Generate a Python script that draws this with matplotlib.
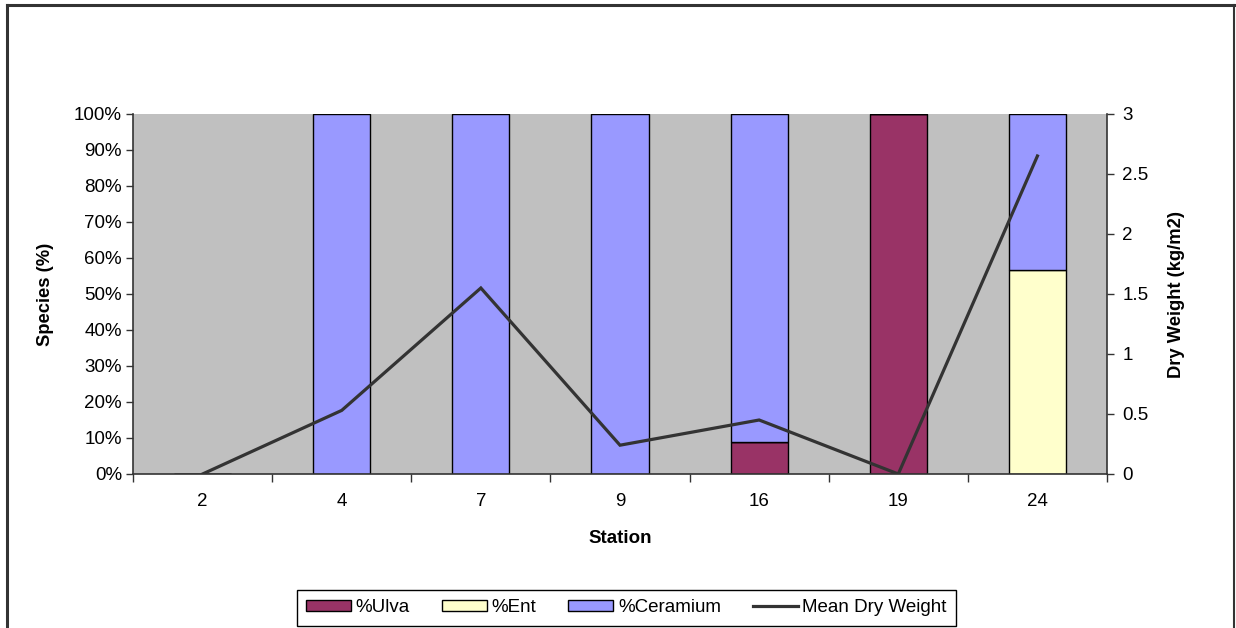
import matplotlib
matplotlib.use("Agg")
import matplotlib.pyplot as plt
import numpy as np
from matplotlib.patches import Rectangle
from matplotlib.lines import Line2D

plt.rcParams['font.family'] = ['Liberation Sans', 'DejaVu Sans']

stations = ['2', '4', '7', '9', '16', '19', '24']
ulva = [0, 0, 0, 0, 8.9, 100, 0]
ent = [0, 0, 0, 0, 0, 0, 56.7]
ceramium = [0, 100, 100, 100, 91.1, 0, 43.3]
dry_weight = [0.0, 0.53, 1.55, 0.24, 0.45, 0.0, 2.65]

c_ulva = '#993366'
c_ent = '#FFFFCC'
c_cer = '#9999FF'
c_line = '#333333'
bg = '#C0C0C0'

W, H = 1236, 628
fig = plt.figure(figsize=(W/100, H/100), dpi=100)

# outer frame (left, top, right)
fig.add_artist(Line2D([6.5/W, 6.5/W], [0, 1-4.5/H], color='#333333', lw=2.2))
fig.add_artist(Line2D([6.5/W, 1233.5/W], [1-4.5/H, 1-4.5/H], color='#333333', lw=2.2))
fig.add_artist(Line2D([1233.5/W, 1233.5/W], [0, 1-4.5/H], color='#333333', lw=1.5))

FS = 13.5
L, R, T, B = 133, 1107, 114, 474
ax = fig.add_axes([L/W, 1-B/H, (R-L)/W, (B-T)/H])
ax.set_facecolor(bg)
x = np.arange(len(stations))
bw = 0.41
ax.bar(x, ulva, bw, color=c_ulva, edgecolor='black', linewidth=1.0, zorder=2)
ax.bar(x, ent, bw, bottom=ulva, color=c_ent, edgecolor='black', linewidth=1.0, zorder=2)
bot2 = [a+b for a, b in zip(ulva, ent)]
ax.bar(x, ceramium, bw, bottom=bot2, color=c_cer, edgecolor='black', linewidth=1.0, zorder=2)

ax.set_xlim(-0.5, len(stations)-0.5)
ax.set_ylim(0, 100)
ax.set_yticks(np.arange(0, 101, 10))
ax.set_yticklabels([f'{v}%' for v in range(0, 101, 10)])
ax.set_xticks(x)
ax.set_xticklabels(stations)
ax.set_xticks(np.arange(-0.5, len(stations), 1), minor=True)
ax.tick_params(axis='x', which='major', length=0, pad=14, labelsize=FS)
ax.tick_params(axis='x', which='minor', length=6, direction='out', color='#333333', width=1)
ax.tick_params(axis='y', length=5, direction='out', color='#333333', width=1, labelsize=FS, pad=3)
for s in ['top', 'right']:
    ax.spines[s].set_visible(False)
ax.spines['left'].set_color('#333333')
ax.spines['bottom'].set_color('#333333')
ax.spines['left'].set_linewidth(1.2)
ax.spines['bottom'].set_linewidth(1.2)
ax.set_xlabel('Station', fontsize=FS, fontweight='bold', labelpad=14)
ax.set_ylabel('Species (%)', fontsize=13.2, fontweight='bold', labelpad=14)

ax2 = ax.twinx()
ax2.plot(x, dry_weight, color=c_line, lw=2.3, zorder=3, solid_joinstyle='miter')
ax2.set_ylim(0, 3)
ax2.set_yticks([0, 0.5, 1, 1.5, 2, 2.5, 3])
ax2.set_yticklabels(['0', '0.5', '1', '1.5', '2', '2.5', '3'])
ax2.tick_params(axis='y', length=5, direction='out', color='#333333', width=1, labelsize=FS, pad=6)
for s in ['top', 'left', 'bottom']:
    ax2.spines[s].set_visible(False)
ax2.spines['right'].set_color('#333333')
ax2.spines['right'].set_linewidth(1.2)
ax2.set_ylabel('Dry Weight (kg/m2)', fontsize=13.2, fontweight='bold', labelpad=14)

handles = [Rectangle((0, 0), 1, 1, facecolor=c_ulva, edgecolor='black', lw=1),
           Rectangle((0, 0), 1, 1, facecolor=c_ent, edgecolor='black', lw=1),
           Rectangle((0, 0), 1, 1, facecolor=c_cer, edgecolor='black', lw=1),
           Line2D([], [], color=c_line, lw=2.3)]
labels = ['%Ulva', '%Ent', '%Ceramium', 'Mean Dry Weight']
leg = fig.legend(handles, labels, ncol=4, loc='upper center',
                 bbox_to_anchor=(626.5/W, 1-590/H), frameon=True, fancybox=False,
                 edgecolor='black', fontsize=FS, handlelength=2.4, handleheight=0.55,
                 columnspacing=1.7, handletextpad=0.25, borderpad=0.5, framealpha=1,
                 borderaxespad=0)
leg.get_frame().set_linewidth(1.0)

fig.savefig('out.png', dpi=100)
